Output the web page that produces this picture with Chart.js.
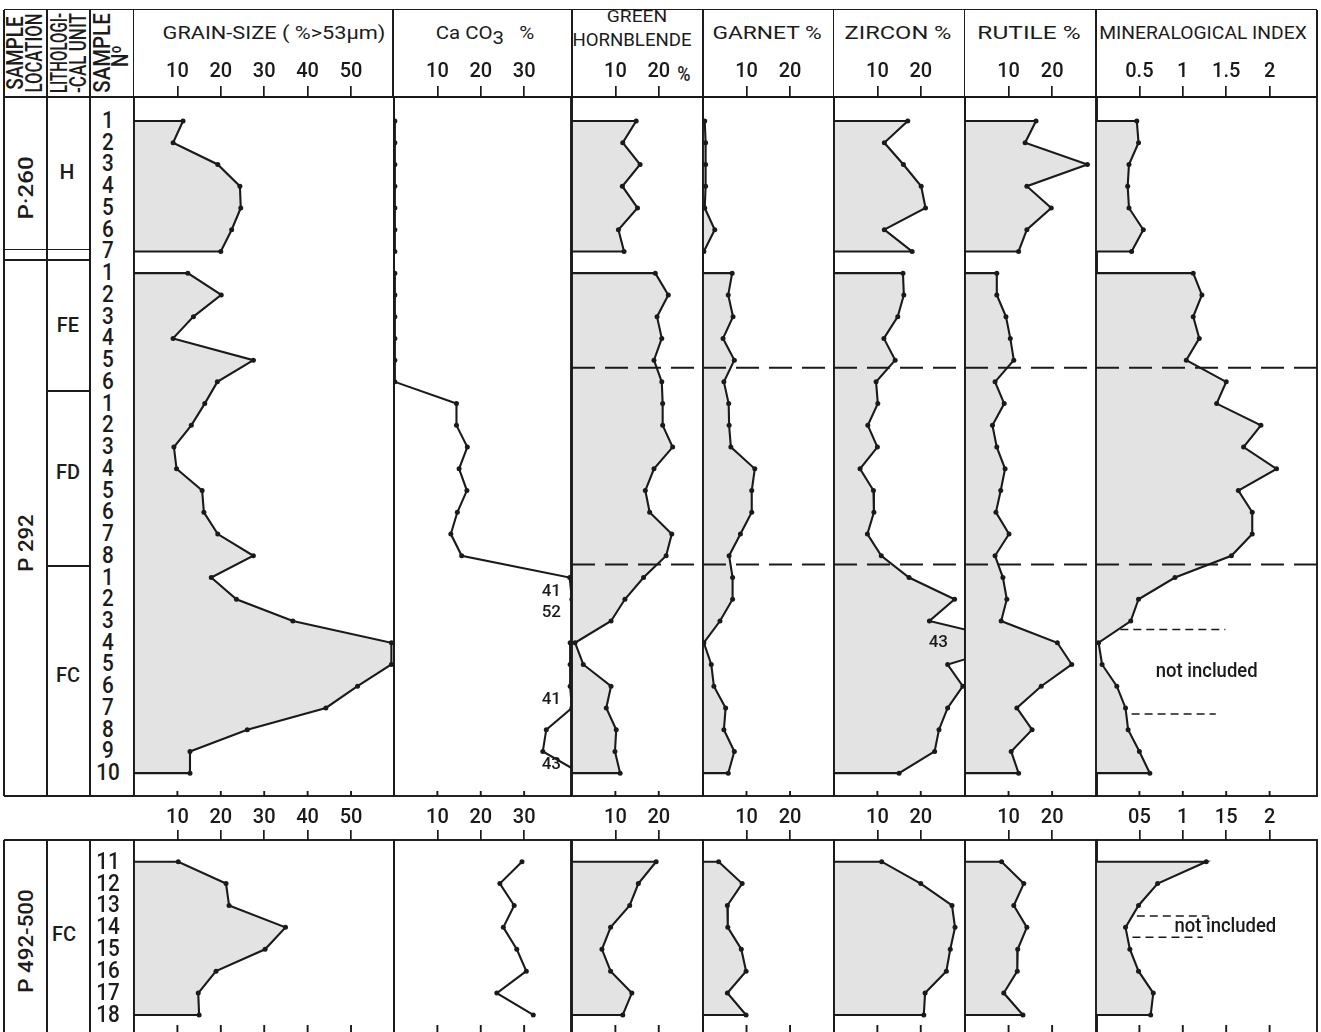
<!DOCTYPE html>
<html>
<head>
<meta charset="utf-8">
<title>Grain-size, CaCO3 and heavy minerals</title>
<script src="https://cdn.jsdelivr.net/npm/chart.js@4.4.1/dist/chart.umd.min.js"></script>
<style>
  html, body { margin: 0; padding: 0; background: #fff; }
  #sheet { position: relative; width: 1321px; height: 1032px; overflow: hidden; background: #fff;
           font-family: Roboto, 'DejaVu Sans', sans-serif; font-weight: 500; color: #1c1c1c; }
  #sheet canvas { position: absolute; }
  .rule { position: absolute; background: #1c1c1c; }
  .lbl { position: absolute; white-space: nowrap; line-height: 1; }
  .title { font-weight: 400; }
</style>
</head>
<body>
<div id="sheet"></div>
<script>
// sample numbers per location
const p260Samples = ['1', '2', '3', '4', '5', '6', '7'];
const p292Samples = ['1', '2', '3', '4', '5', '6',
                     '1', '2', '3', '4', '5', '6', '7', '8',
                     '1', '2', '3', '4', '5', '6', '7', '8', '9', '10'];
const p492Samples = ['11', '12', '13', '14', '15', '16', '17', '18'];

// grain-size (% > 53 um)
const grainP260 = [11.3, 9.0, 19.3, 24.4, 24.6, 22.5, 20.0];
const grainP292 = [12.4, 20.1, 13.7, 9.0, 27.5, 19.2,
                   16.3, 13.2, 9.2, 9.8, 15.7, 16.1, 19.3, 27.5,
                   17.8, 23.6, 36.6, 59.3, 59.3, 51.5, 44.2, 26.1, 12.9, 12.9];
const grainP492 = [10.2, 21.2, 21.9, 34.9, 30.2, 18.9, 14.8, 15.0];

// CaCO3 %
const caco3P260 = [0.2, 0.2, 0.2, 0.2, 0.2, 0.2, 0.2];
const caco3P292 = [0.2, 0.2, 0.2, 0.2, 0.2, 0.2,
                   14.4, 14.4, 16.9, 15.0, 16.8, 14.6, 13.1, 15.6,
                   40.5, 41, 52, 40.6, 40.6, 40.6, 41, 35.1, 34.3, 43];
const caco3P492 = [29.5, 24.4, 27.7, 25.2, 28.3, 30.5, 23.7, 32.1];

// green hornblende %
const hornP260 = [14.8, 11.7, 15.7, 11.6, 15.1, 10.7, 12.0];
const hornP292 = [19.2, 22.2, 19.6, 20.7, 18.9, 20.7,
                  20.9, 20.9, 23.2, 18.9, 16.9, 17.9, 23.0, 21.7,
                  16.5, 12.2, 9.0, 0.7, 2.6, 9.0, 7.9, 10.2, 9.9, 11.1];
const hornP492 = [19.4, 15.3, 13.3, 8.9, 6.9, 8.9, 13.8, 11.7];

// garnet %
const garnetP260 = [0.4, 0.6, 0.6, 0.6, 0.4, 2.7, 0.2];
const garnetP292 = [6.7, 5.8, 6.9, 4.6, 7.2, 4.8,
                    5.9, 6.0, 6.4, 11.9, 11.2, 11.2, 8.6, 6.0,
                    6.8, 6.8, 3.9, 0.2, 1.9, 2.5, 5.2, 4.8, 7.2, 5.8];
const garnetP492 = [3.6, 9.0, 5.6, 5.7, 8.8, 9.9, 5.6, 9.9];

// zircon %
const zirconP260 = [17.0, 11.6, 16.0, 20.1, 21.1, 11.6, 18.0];
const zirconP292 = [15.9, 16.1, 14.7, 11.5, 14.1, 9.7,
                    10.1, 7.8, 10.0, 6.0, 9.1, 9.2, 7.7, 10.9,
                    17.3, 27.8, 22.0, 43, 26.2, 29.7, 26.2, 24.2, 23.2, 15.0];
const zirconP492 = [11.0, 20.0, 27.2, 27.9, 26.8, 25.9, 21.0, 20.7];

// rutile %
const rutileP260 = [16.3, 13.8, 28.1, 14.2, 19.8, 14.2, 12.3];
const rutileP292 = [7.3, 7.3, 9.4, 10.4, 11.2, 6.9,
                    9.0, 6.3, 7.3, 9.2, 8.2, 7.1, 10.1, 6.9,
                    8.7, 9.6, 8.3, 21.2, 24.5, 17.5, 11.9, 15.4, 10.6, 12.3];
const rutileP492 = [8.4, 13.5, 11.2, 14.2, 12.1, 12.0, 8.9, 13.3];

// mineralogical index
const indexP260 = [0.47, 0.49, 0.38, 0.365, 0.38, 0.545, 0.41];
const indexP292 = [1.12, 1.22, 1.12, 1.19, 1.04, 1.50,
                   1.39, 1.90, 1.70, 2.08, 1.64, 1.80, 1.80, 1.56,
                   0.91, 0.49, 0.40, 0.03, 0.07, 0.24, 0.34, 0.37, 0.50, 0.62];
const indexP492 = [1.27, 0.71, 0.49, 0.34, 0.39, 0.49, 0.66, 0.63];

// tick values and labels
const grainTicks = [10, 20, 30, 40, 50];
const caco3Ticks = [10, 20, 30];
const mineralTicks = [10, 20];
const indexTicks = [0.5, 1, 1.5, 2];
const indexLabelsTop = ['0.5', '1', '1.5', '2'];
const indexLabelsBottom = ['05', '1', '15', '2'];

// unit boundaries (in sample steps) marked by dashed lines
const unitBreaks = [11.35, 20.4];

const INK = '#1a1a1a';
const SHADE = '#e3e3e3';
const FONT = "Roboto, 'DejaVu Sans', sans-serif";

Chart.defaults.font.family = FONT;
Chart.defaults.font.weight = 500;
Chart.defaults.color = INK;

const sheet = document.getElementById('sheet');

function rule(x0, y0, x1, y1, w) {
  w = w || 1.9;
  const d = document.createElement('div');
  d.className = 'rule';
  if (y0 === y1) {
    d.style.left = x0 + 'px'; d.style.top = (y0 - w / 2) + 'px';
    d.style.width = (x1 - x0) + 'px'; d.style.height = w + 'px';
  } else {
    d.style.left = (x0 - w / 2) + 'px'; d.style.top = y0 + 'px';
    d.style.width = w + 'px'; d.style.height = (y1 - y0) + 'px';
  }
  sheet.appendChild(d);
}

function label(html, cx, cy, size, o) {
  o = o || {};
  const d = document.createElement('div');
  d.className = 'lbl' + (o.cls ? ' ' + o.cls : '');
  d.innerHTML = html;
  d.style.fontSize = size + 'px';
  d.style.left = cx + 'px';
  d.style.top = cy + 'px';
  sheet.appendChild(d);
  let sx = o.sx || 1;
  if (o.fit) sx = o.fit / d.offsetWidth;
  d.style.transform = 'translate(-50%,-50%) rotate(' + (o.rot || 0) + 'deg) scale(' + sx + ',1)';
  return d;
}

// ---- frame of the table ----
rule(4, 9.5, 1317, 9.5);
rule(4, 97, 1317, 97);
[4, 47, 90, 133.5].forEach(x => rule(x, 9.5, x, 796));
[393, 572, 703, 833.5, 964.5, 1096, 1317].forEach(x => rule(x, 9.5, x, 97));
rule(4, 796, 133.5, 796);
rule(4, 249.5, 90, 249.5);
rule(4, 260, 90, 260);
rule(47, 390.7, 90, 390.7);
rule(47, 566, 90, 566);
rule(4, 840, 133.5, 840);
[4, 47, 90, 133.5].forEach(x => rule(x, 840, x, 1034));

// ---- header texts ----
label('SAMPLE', 14.7, 53, 23, { rot: -90, fit: 73 });
label('LOCATION', 33.5, 52.5, 23, { rot: -90, fit: 79 });
label('LITHOLOGI-', 59, 53, 23, { rot: -90, fit: 80 });
label('-CAL UNIT', 77.5, 53, 23, { rot: -90, fit: 80 });
label('SAMPLE', 102, 52.5, 23, { rot: -90, fit: 79 });
label('N&ordm;', 120, 56, 23, { rot: -90, fit: 22 });

label('GRAIN-SIZE ( %&gt;53&micro;m)', 273.5, 31.5, 19, { fit: 223, cls: 'title' });
label('Ca CO<span style="position:relative;top:5px">3</span>&nbsp;&nbsp;&nbsp;%', 485, 32, 19, { fit: 99, cls: 'title' });
label('GREEN', 637, 17, 16, { fit: 60, cls: 'title' });
label('HORNBLENDE', 632, 39.5, 18, { fit: 119, cls: 'title' });
label('%', 683.5, 73.5, 20, { sx: 0.9 });
label('GARNET %', 766.5, 31.5, 19, { fit: 109, cls: 'title' });
label('ZIRCON %', 898, 31.5, 19, { fit: 107, cls: 'title' });
label('RUTILE %', 1028.7, 31.5, 19, { fit: 103, cls: 'title' });
label('MINERALOGICAL INDEX', 1203, 31.5, 19, { fit: 208, cls: 'title' });

// ---- location and lithological unit ----
label('P&middot;260', 26, 188, 21, { rot: -90, fit: 63 });
label('P 292', 26, 543, 21, { rot: -90, fit: 57 });
label('P 492-500', 26, 941, 21, { rot: -90, fit: 103 });
label('H', 67, 172, 21);
label('FE', 68, 325, 21, { sx: 0.95 });
label('FD', 68, 472, 21, { sx: 0.95 });
label('FC', 68, 675, 21, { sx: 0.95 });
label('FC', 64, 934, 21, { sx: 0.95 });

// ---- plugins ----
const frame = {
  id: 'frame',
  afterDatasetsDraw(chart, args, o) {
    const { ctx, chartArea: a } = chart;
    const x = chart.scales.x;
    ctx.save();
    ctx.strokeStyle = INK;
    ctx.lineWidth = 1.9;
    ctx.strokeRect(a.left, a.top, a.right - a.left, a.bottom - a.top);
    ctx.beginPath();
    x.ticks.forEach(t => {
      const px = x.getPixelForValue(t.value);
      ctx.moveTo(px, a.bottom);
      ctx.lineTo(px, a.bottom - o.inner);
    });
    ctx.stroke();
    ctx.restore();
  }
};

const breaks = {
  id: 'breaks',
  afterDatasetsDraw(chart, args, o) {
    const { ctx, chartArea: a } = chart;
    const y = chart.scales.y;
    ctx.save();
    ctx.strokeStyle = INK;
    ctx.lineWidth = 1.9;
    ctx.setLineDash([23, 10]);
    o.at.forEach(v => {
      const py = y.getPixelForValue(v);
      ctx.beginPath();
      ctx.moveTo(a.left, py);
      ctx.lineTo(a.right, py);
      ctx.stroke();
    });
    ctx.restore();
  }
};

// values beyond the scale are written beside the right border
const offScale = {
  id: 'offScale',
  afterDraw(chart, args, o) {
    const { ctx, chartArea: a } = chart;
    const { x, y } = chart.scales;
    ctx.save();
    ctx.fillStyle = INK;
    ctx.font = '500 17px ' + FONT;
    ctx.textAlign = 'right';
    ctx.textBaseline = 'middle';
    chart.data.datasets.forEach(ds => ds.data.forEach(pt => {
      if (pt.x > x.max) ctx.fillText(String(pt.x), a.right - o.gap, y.getPixelForValue(pt.y) + o.dy);
    }));
    ctx.restore();
  }
};

const note = {
  id: 'note',
  afterDatasetsDraw(chart, args, o) {
    const { ctx } = chart;
    const { x, y } = chart.scales;
    ctx.save();
    ctx.strokeStyle = INK;
    ctx.lineWidth = 1.5;
    ctx.setLineDash([8, 5]);
    o.rules.forEach(r => {
      ctx.beginPath();
      ctx.moveTo(x.getPixelForValue(r[1]), y.getPixelForValue(r[0]));
      ctx.lineTo(x.getPixelForValue(r[2]), y.getPixelForValue(r[0]));
      ctx.stroke();
    });
    ctx.setLineDash([]);
    ctx.fillStyle = INK;
    ctx.font = '500 21px ' + FONT;
    ctx.textAlign = 'center';
    ctx.textBaseline = 'middle';
    ctx.translate(x.getPixelForValue(o.at[0]), y.getPixelForValue(o.at[1]));
    ctx.scale(o.sx, 1);
    ctx.fillText(o.text, 0, 0);
    ctx.restore();
  }
};

// ---- panels and sections ----
const panels = [
  { name: 'grain',  left: 133.5, right: 393,   max: 59.9,  ticks: grainTicks,
    top: [grainP260, grainP292], bottom: grainP492, fill: true },
  { name: 'caco3',  left: 393,   right: 572,   max: 40.8,  ticks: caco3Ticks,
    top: [caco3P260, caco3P292], bottom: caco3P492, fill: false, over: { gap: 10, dy: -8 } },
  { name: 'horn',   left: 572,   right: 703,   max: 30.2,  ticks: mineralTicks,
    top: [hornP260, hornP292], bottom: hornP492, fill: true, dashed: true },
  { name: 'garnet', left: 703,   right: 833.5, max: 30.1,  ticks: mineralTicks,
    top: [garnetP260, garnetP292], bottom: garnetP492, fill: true, dashed: true },
  { name: 'zircon', left: 833.5, right: 964.5, max: 30.2,  ticks: mineralTicks,
    top: [zirconP260, zirconP292], bottom: zirconP492, fill: true, dashed: true, over: { gap: 17, dy: 0 } },
  { name: 'rutile', left: 964.5, right: 1096,  max: 30.3,  ticks: mineralTicks,
    top: [rutileP260, rutileP292], bottom: rutileP492, fill: true, dashed: true },
  { name: 'index',  left: 1096,  right: 1317,  max: 2.546, ticks: indexTicks,
    labelsTop: indexLabelsTop, labelsBottom: indexLabelsBottom,
    top: [indexP260, indexP292], bottom: indexP492, fill: true, dashed: true,
    noteTop: { text: 'not included', at: [1.275, 25.35], sx: 0.88, rules: [[23.39, 0.28, 1.49], [27.28, 0.41, 1.38]] },
    noteBottom: { text: 'not included', at: [1.49, 2.97], sx: 0.88, rules: [[2.48, 0.47, 1.30], [3.45, 0.42, 1.23]] } }
];

const sections = [
  { key: 'top', top: 0, height: 800, axisH: 97, tickLen: 11, tickPad: 2, inner: 5,
    yMin: -1.104, yMax: 31.05, groups: [p260Samples, p292Samples] },
  { key: 'bottom', top: 797, height: 241, axisH: 43, tickLen: 10, tickPad: 0, inner: 9,
    yMin: -0.99, yMax: 7.87, groups: [p492Samples] }
];

function profile(values, start, filled) {
  const pts = values.map((v, i) => ({ x: v, y: start + i }));
  if (filled) {
    pts.unshift({ x: 0, y: start });
    pts.push({ x: 0, y: start + values.length - 1 });
  }
  return {
    data: pts,
    borderColor: INK,
    borderWidth: 2.1,
    backgroundColor: SHADE,
    fill: filled ? 'origin' : false,
    pointRadius: pts.map((q, i) => (filled && (i === 0 || i === pts.length - 1)) ? 0 : 2.5),
    pointBackgroundColor: INK,
    pointBorderWidth: 0,
    tension: 0,
    clip: 1
  };
}

const PADX = 3;

sections.forEach(sec => {
  panels.forEach(p => {
    const series = sec.key === 'top' ? p.top : [p.bottom];
    const datasets = [];
    let start = 0;
    series.forEach(vals => {
      datasets.push(profile(vals, start, p.fill));
      start += vals.length;
    });
    const tickLabels = (sec.key === 'top' ? p.labelsTop : p.labelsBottom) || p.ticks.map(String);

    const cv = document.createElement('canvas');
    const w = Math.round(p.right - p.left + 2 * PADX);
    cv.width = w;
    cv.height = sec.height;
    cv.style.left = (p.left - PADX) + 'px';
    cv.style.top = sec.top + 'px';
    cv.style.width = w + 'px';
    cv.style.height = sec.height + 'px';
    sheet.appendChild(cv);

    const chart = new Chart(cv, {
      type: 'line',
      data: { datasets: datasets },
      plugins: [frame, breaks, offScale, note],
      options: {
        responsive: false,
        animation: false,
        events: [],
        indexAxis: 'y',
        layout: { padding: { left: PADX, right: PADX, top: 0, bottom: 4 } },
        plugins: {
          legend: { display: false },
          tooltip: { enabled: false },
          frame: { inner: sec.inner },
          breaks: (sec.key === 'top' && p.dashed) ? { at: unitBreaks } : false,
          offScale: (sec.key === 'top' && p.over) ? p.over : false,
          note: (sec.key === 'top' ? p.noteTop : p.noteBottom) || false
        },
        scales: {
          x: {
            type: 'linear',
            position: 'top',
            min: 0,
            max: p.max,
            afterBuildTicks: ax => { ax.ticks = p.ticks.map(v => ({ value: v })); },
            afterFit: ax => { ax.height = sec.axisH; },
            grid: { drawOnChartArea: false, drawTicks: true, tickLength: sec.tickLen, color: INK, lineWidth: 1.7 },
            border: { display: false },
            ticks: {
              autoSkip: false, maxRotation: 0, padding: sec.tickPad, color: INK,
              font: { size: 20, weight: 500 },
              callback: (v, i) => tickLabels[i]
            }
          },
          y: { type: 'linear', display: false, reverse: true, min: sec.yMin, max: sec.yMax }
        }
      }
    });

    if (p.name === 'grain') {
      let idx = 0;
      sec.groups.forEach(g => g.forEach(s => {
        label(s, 108, sec.top + chart.scales.y.getPixelForValue(idx) - 1, 23, { sx: 0.9 });
        idx++;
      }));
    }
  });
});
</script>
</body>
</html>
